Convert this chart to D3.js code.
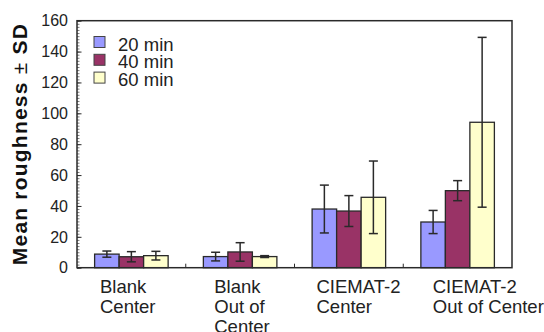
<!DOCTYPE html>
<html>
<head>
<meta charset="utf-8">
<script src="https://cdn.jsdelivr.net/npm/d3@7/dist/d3.min.js"></script>
<style>
  html, body { margin: 0; padding: 0; background: #ffffff; }
  svg { display: block; font-family: "Liberation Sans", Arial, Helvetica, sans-serif; }
</style>
</head>
<body>
<svg id="chart" width="544" height="332"></svg>
<script>
// Category labels (one entry per line of text)
const categories = [
  ["Blank", "Center"],
  ["Blank", "Out of", "Center"],
  ["CIEMAT-2", "Center"],
  ["CIEMAT-2", "Out of Center"]
];
const seriesNames = ["20 min", "40 min", "60 min"];

// Mean roughness and standard deviation per series
const mean20 = [8.8, 7.2, 38.0, 29.6];
const sd20   = [2.0, 2.8, 15.5, 7.5];
const mean40 = [7.1, 10.2, 36.7, 49.9];
const sd40   = [3.3, 6.0, 10.0, 6.5];
const mean60 = [7.8, 7.2, 45.6, 94.2];
const sd60   = [2.8, 0.6, 23.5, 55.0];

const yTicks = [0, 20, 40, 60, 80, 100, 120, 140, 160];
const yTitleParts = ["Mean roughness ", "\u00B1", " SD"];

const colors = ["#9999ff", "#993366", "#ffffcc"];
const labelDx = [23, 28.5, 22, 29.5];

const means = [mean20, mean40, mean60];
const sds = [sd20, sd40, sd60];

const svg = d3.select("#chart");
const m = { left: 77, right: 512, top: 20.7, bottom: 267.7 };

const x0 = d3.scaleBand()
  .domain(d3.range(categories.length))
  .range([m.left, m.right])
  .paddingInner(0.324)
  .paddingOuter(0.162);
const x1 = d3.scaleBand()
  .domain(d3.range(seriesNames.length))
  .range([0, x0.bandwidth()]);
const y = d3.scaleLinear().domain([0, 160]).range([m.bottom, m.top]);

const ink = "#2a2a2a";

// Bars
categories.forEach((c, ci) => {
  const g = svg.append("g").attr("transform", `translate(${x0(ci)},0)`);
  seriesNames.forEach((s, si) => {
    const v = means[si][ci];
    g.append("rect")
      .attr("x", x1(si))
      .attr("y", y(v))
      .attr("width", x1.bandwidth())
      .attr("height", y(0) - y(v))
      .attr("fill", colors[si])
      .attr("stroke", ink)
      .attr("stroke-width", 1.3);
  });
});

// Error bars
categories.forEach((c, ci) => {
  seriesNames.forEach((s, si) => {
    const v = means[si][ci], e = sds[si][ci];
    const cx = x0(ci) + x1(si) + x1.bandwidth() / 2;
    const g = svg.append("g").attr("stroke", ink).attr("stroke-width", 1.5);
    g.append("line").attr("x1", cx).attr("x2", cx).attr("y1", y(v + e)).attr("y2", y(v - e));
    [v + e, v - e].forEach(t => {
      g.append("line").attr("x1", cx - 4.5).attr("x2", cx + 4.5).attr("y1", y(t)).attr("y2", y(t));
    });
  });
});

// Y axis: major ticks with labels, minor ticks every 2 units, all pointing inward
const yAxis = svg.append("g").attr("transform", `translate(${m.left},0)`);
yAxis.call(d3.axisRight(y).tickValues(d3.range(0, 161, 2)).tickSize(2.5).tickFormat(""))
  .call(g => g.select(".domain").remove())
  .call(g => g.selectAll("line").attr("stroke", "#555").attr("stroke-width", 0.8));
const yMajor = svg.append("g").attr("transform", `translate(${m.left},0)`);
yMajor.call(d3.axisRight(y).tickValues(yTicks).tickSize(4.5).tickFormat(""))
  .call(g => g.select(".domain").remove())
  .call(g => g.selectAll("line").attr("stroke", ink).attr("stroke-width", 1));
svg.append("g").selectAll("text").data(yTicks).join("text")
  .attr("x", m.left - 9)
  .attr("y", d => y(d))
  .attr("dy", "0.36em")
  .attr("text-anchor", "end")
  .attr("font-size", 16)
  .attr("fill", "#222")
  .text(d => d);

// Category separator ticks on the baseline
svg.append("g").selectAll("line").data(d3.range(1, categories.length)).join("line")
  .attr("x1", i => x0(i) - x0.step() * x0.paddingInner() / 2)
  .attr("x2", i => x0(i) - x0.step() * x0.paddingInner() / 2)
  .attr("y1", m.bottom)
  .attr("y2", m.bottom - 4)
  .attr("stroke", ink)
  .attr("stroke-width", 1);

// Plot frame
svg.append("rect")
  .attr("x", m.left).attr("y", m.top)
  .attr("width", m.right - m.left).attr("height", m.bottom - m.top)
  .attr("fill", "none").attr("stroke", ink).attr("stroke-width", 1.5);

// Category labels
categories.forEach((lines, ci) => {
  const bandStart = x0(ci) - x0.step() * x0.paddingInner() / 2;
  const t = svg.append("text")
    .attr("font-size", 18.5)
    .attr("fill", "#222");
  lines.forEach((ln, li) => {
    t.append("tspan")
      .attr("x", bandStart + labelDx[ci])
      .attr("y", 293 + li * 20)
      .text(ln);
  });
});

// Y axis title (the ± sign is set in a regular weight)
const title = svg.append("text")
  .attr("transform", `translate(26.5,${(m.top + m.bottom) / 2 + 0.5}) rotate(-90)`)
  .attr("text-anchor", "middle")
  .attr("font-size", 21)
  .attr("font-weight", "bold")
  .attr("fill", "#111")
  .attr("textLength", 241)
  .attr("lengthAdjust", "spacing");
yTitleParts.forEach((p, i) => {
  title.append("tspan")
    .attr("font-weight", i === 1 ? "normal" : "bold")
    .text(p);
});

// Legend
const legend = svg.append("g");
seriesNames.forEach((s, i) => {
  legend.append("rect")
    .attr("x", 94).attr("y", 36.5 + i * 17.8)
    .attr("width", 11).attr("height", 11)
    .attr("fill", colors[i]).attr("stroke", "#444").attr("stroke-width", 1);
  legend.append("text")
    .attr("x", 118).attr("y", 50.5 + i * 17.8)
    .attr("font-size", 18.5)
    .attr("fill", "#222")
    .text(s);
});
</script>
</body>
</html>
